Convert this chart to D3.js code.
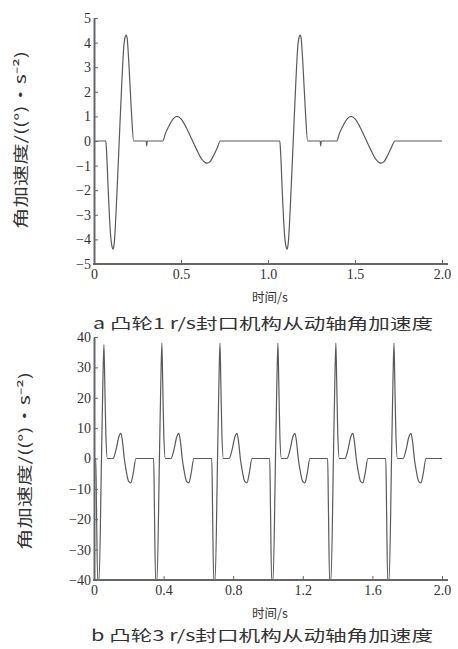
<!DOCTYPE html>
<html>
<head>
<meta charset="utf-8">
<script src="https://cdn.jsdelivr.net/npm/d3@7"></script>
<style>
html,body{margin:0;padding:0;background:#fff;}
svg{display:block;}
</style>
</head>
<body>
<svg id="chart" width="458" height="649"></svg>
<script>
// ---- Data ----
// Chart a: cam 1 r/s, angular acceleration
const timeA = [0, 0.068, 0.072, 0.083, 0.095, 0.104, 0.11, 0.117, 0.13, 0.145, 0.16, 0.172, 0.18, 0.185, 0.19, 0.2, 0.215, 0.228,
  0.30, 0.303, 0.306, 0.395, 0.41, 0.43, 0.455, 0.477, 0.50, 0.53, 0.56, 0.59, 0.62, 0.64, 0.65, 0.665, 0.69, 0.71, 0.725,
  1.068, 1.072, 1.083, 1.095, 1.104, 1.11, 1.117, 1.13, 1.145, 1.16, 1.172, 1.18, 1.185, 1.19, 1.2, 1.215, 1.228,
  1.30, 1.303, 1.306, 1.395, 1.41, 1.43, 1.455, 1.477, 1.50, 1.53, 1.56, 1.59, 1.62, 1.64, 1.65, 1.665, 1.69, 1.71, 1.73, 2.0];
const accelA = [0, 0, -0.4, -2.2, -3.8, -4.3, -4.4, -4.1, -2.4, 0, 2.4, 3.9, 4.25, 4.3, 4.2, 3.2, 1.2, 0,
  0, -0.2, 0, 0, 0.3, 0.6, 0.9, 1.0, 0.9, 0.55, 0.1, -0.35, -0.75, -0.88, -0.9, -0.85, -0.55, -0.25, 0,
  0, -0.4, -2.2, -3.8, -4.3, -4.4, -4.1, -2.4, 0, 2.4, 3.9, 4.25, 4.3, 4.2, 3.2, 1.2, 0,
  0, -0.2, 0, 0, 0.3, 0.6, 0.9, 1.0, 0.9, 0.55, 0.1, -0.35, -0.75, -0.88, -0.9, -0.85, -0.55, -0.25, 0, 0];

// Chart b: cam 3 r/s, angular acceleration
const timeB = [0,
  0.010, 0.014, 0.021, 0.029, 0.043, 0.051, 0.057, 0.062, 0.068, 0.077, 0.109, 0.127, 0.142, 0.155, 0.165, 0.174, 0.185, 0.199, 0.212, 0.225, 0.241,
  0.343, 0.347, 0.354, 0.362, 0.376, 0.384, 0.390, 0.395, 0.401, 0.410, 0.442, 0.460, 0.475, 0.488, 0.498, 0.507, 0.518, 0.532, 0.545, 0.558, 0.574,
  0.677, 0.681, 0.688, 0.696, 0.710, 0.718, 0.724, 0.729, 0.735, 0.744, 0.776, 0.794, 0.809, 0.822, 0.832, 0.841, 0.852, 0.866, 0.879, 0.892, 0.908,
  1.010, 1.014, 1.021, 1.029, 1.043, 1.051, 1.057, 1.062, 1.068, 1.077, 1.109, 1.127, 1.142, 1.155, 1.165, 1.174, 1.185, 1.199, 1.212, 1.225, 1.241,
  1.343, 1.347, 1.354, 1.362, 1.376, 1.384, 1.390, 1.395, 1.401, 1.410, 1.442, 1.460, 1.475, 1.488, 1.498, 1.507, 1.518, 1.532, 1.545, 1.558, 1.574,
  1.677, 1.681, 1.688, 1.696, 1.710, 1.718, 1.724, 1.729, 1.735, 1.744, 1.776, 1.794, 1.809, 1.822, 1.832, 1.841, 1.852, 1.866, 1.879, 1.892, 1.908,
  2.0];
const accelB = [0,
  0, -15, -40, -40, 0, 25, 37.5, 25, 8, 0, 0, 3, 7, 8.3, 5, 0, -4, -7.5, -8, -5, 0,
  0, -15, -40, -40, 0, 25, 38, 25, 8, 0, 0, 3, 7, 8.3, 5, 0, -4, -7.5, -8, -5, 0,
  0, -15, -40, -40, 0, 25, 38, 25, 8, 0, 0, 3, 7, 8.3, 5, 0, -4, -7.5, -8, -5, 0,
  0, -15, -40, -40, 0, 25, 38, 25, 8, 0, 0, 3, 7, 8.3, 5, 0, -4, -7.5, -8, -5, 0,
  0, -15, -40, -40, 0, 25, 38, 25, 8, 0, 0, 3, 7, 8.3, 5, 0, -4, -7.5, -8, -5, 0,
  0, -15, -40, -40, 0, 25, 38, 25, 8, 0, 0, 3, 7, 8.3, 5, 0, -4, -7.5, -8, -5, 0,
  0];

const xTicksA = [0, 0.5, 1.0, 1.5, 2.0];
const xTickLabelsA = ["0", "0.5", "1.0", "1.5", "2.0"];
const yTicksA = [-5, -4, -3, -2, -1, 0, 1, 2, 3, 4, 5];
const xTicksB = [0, 0.4, 0.8, 1.2, 1.6, 2.0];
const xTickLabelsB = ["0", "0.4", "0.8", "1.2", "1.6", "2.0"];
const yTicksB = [-40, -30, -20, -10, 0, 10, 20, 30, 40];

const yLabel = "角加速度/((°)·s⁻²)";
const xLabel = "时间/s";
const captionA = "a 凸轮1 r/s封口机构从动轴角加速度";
const captionB = "b 凸轮3 r/s封口机构从动轴角加速度";

// ---- Drawing ----
const svg = d3.select("#chart");
const numFont = "Liberation Serif, DejaVu Serif, serif";
const cjkFont = "Noto Sans CJK SC, Liberation Serif, sans-serif";
const axisColor = "#666";
const lineColor = "#5a5a5a";
const textColor = "#333";

function panel(opts) {
  const x = d3.scaleLinear().domain([0, 2]).range([94, 442]);
  const y = d3.scaleLinear().domain(opts.yDomain).range([opts.yBottom, opts.yTop]);
  const g = svg.append("g");

  // curve
  const pts = opts.t.map((t, i) => [t, opts.v[i]]);
  const clipId = "clip" + opts.id;
  svg.append("clipPath").attr("id", clipId).append("rect")
    .attr("x", 94).attr("y", opts.yTop - 3).attr("width", 350).attr("height", opts.yBottom - opts.yTop + 3);
  g.append("path")
    .datum(pts)
    .attr("clip-path", `url(#${clipId})`)
    .attr("fill", "none")
    .attr("stroke", lineColor)
    .attr("stroke-width", 1.2)
    .attr("stroke-linejoin", "round")
    .attr("d", d3.line().x(d => x(d[0])).y(d => y(d[1])).curve(d3.curveMonotoneX));

  // y axis
  const yAxis = d3.axisLeft(y).tickValues(opts.yTicks).tickSize(-4).tickSizeOuter(0).tickPadding(3)
    .tickFormat(d => d < 0 ? "−" + Math.abs(d) : String(d));
  const gy = g.append("g").attr("transform", "translate(94,0)").call(yAxis)
    .attr("font-family", numFont).attr("font-size", 14);
  gy.select(".domain").attr("stroke", axisColor).attr("stroke-width", 2);
  gy.selectAll(".tick line").attr("stroke", axisColor).attr("stroke-width", 1);
  gy.selectAll(".tick text").attr("fill", textColor);

  // x axis
  const xAxis = d3.axisBottom(x).tickValues(opts.xTicks).tickSize(-4).tickSizeOuter(0).tickPadding(5)
    .tickFormat((d, i) => opts.xLabels[i]);
  const gx = g.append("g").attr("transform", `translate(0,${opts.yBottom})`).call(xAxis)
    .attr("font-family", numFont).attr("font-size", 14);
  gx.select(".domain").attr("stroke", axisColor).attr("stroke-width", 2)
    .attr("d", `M93,0H448`);
  gx.selectAll(".tick line").attr("stroke", axisColor).attr("stroke-width", 1);
  gx.selectAll(".tick text").attr("fill", textColor);

  // y label
  g.append("text")
    .attr("transform", `translate(${opts.yLabelX},${opts.yLabelY}) rotate(-90)`)
    .attr("text-anchor", "middle")
    .attr("dominant-baseline", "middle")
    .attr("fill", textColor)
    .attr("textLength", 178)
    .attr("lengthAdjust", "spacingAndGlyphs")
    .attr("font-family", cjkFont)
    .attr("font-size", 15)
    .text(yLabel);

  // x label
  g.append("text")
    .attr("x", 270).attr("y", opts.xLabelY)
    .attr("text-anchor", "middle")
    .attr("fill", textColor)
    .attr("font-family", cjkFont)
    .attr("font-size", 12.5)
    .text(xLabel);

  // caption
  g.append("text")
    .attr("x", opts.capX).attr("y", opts.capY)
    .attr("text-anchor", "middle")
    .attr("fill", textColor)
    .attr("textLength", opts.capLen)
    .attr("lengthAdjust", "spacingAndGlyphs")
    .attr("font-family", cjkFont)
    .attr("font-size", 15)
    .text(opts.caption);
}

panel({id: "A", t: timeA, v: accelA, yDomain: [-5, 5], yTop: 18, yBottom: 264,
  yTicks: yTicksA, xTicks: xTicksA, xLabels: xTickLabelsA,
  yLabelX: 22, yLabelY: 140, xLabelY: 302, capX: 263, capY: 329, capLen: 340, caption: captionA});
panel({id: "B", t: timeB, v: accelB, yDomain: [-40, 40], yTop: 337, yBottom: 580,
  yTicks: yTicksB, xTicks: xTicksB, xLabels: xTickLabelsB,
  yLabelX: 26, yLabelY: 461, xLabelY: 618, capX: 262, capY: 641, capLen: 342, caption: captionB});
</script>
</body>
</html>
